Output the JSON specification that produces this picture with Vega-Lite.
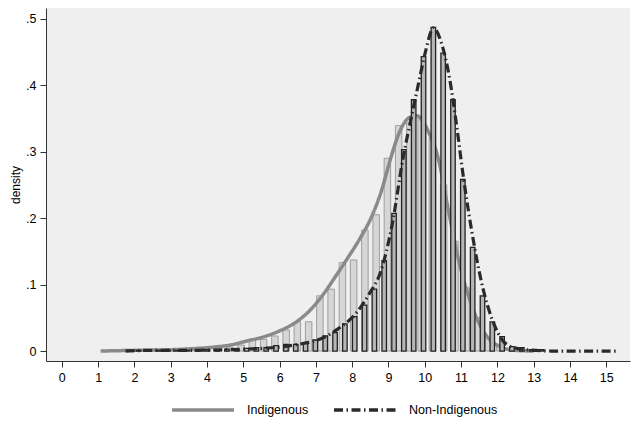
{
  "$schema": "https://vega.github.io/schema/vega-lite/v6.json",
  "width": 584,
  "height": 353,
  "autosize": "none",
  "padding": {"left": 46, "top": 8, "right": 10, "bottom": 70},
  "background": "white",
  "config": {
    "view": {"fill": "#efefef", "stroke": null},
    "font": "Liberation Sans",
    "axis": {"labelFont": "Liberation Sans", "titleFont": "Liberation Sans", "labelColor": "#000", "titleColor": "#000", "domainColor": "#333", "tickColor": "#333", "grid": false}
  },
  "datasets": {
    "indig_bars": [
      {"x": 1.22, "density": 0.001}, {"x": 1.53, "density": 0.001}, {"x": 1.84, "density": 0.001},
      {"x": 2.15, "density": 0.001}, {"x": 2.46, "density": 0.002}, {"x": 2.77, "density": 0.002},
      {"x": 3.08, "density": 0.002}, {"x": 3.39, "density": 0.003}, {"x": 3.70, "density": 0.003},
      {"x": 4.01, "density": 0.004}, {"x": 4.32, "density": 0.005}, {"x": 4.63, "density": 0.006},
      {"x": 4.94, "density": 0.009}, {"x": 5.25, "density": 0.0176}, {"x": 5.56, "density": 0.0176},
      {"x": 5.87, "density": 0.0226}, {"x": 6.18, "density": 0.0316}, {"x": 6.49, "density": 0.044},
      {"x": 6.80, "density": 0.044}, {"x": 7.11, "density": 0.083}, {"x": 7.42, "density": 0.093},
      {"x": 7.73, "density": 0.133}, {"x": 8.04, "density": 0.137}, {"x": 8.35, "density": 0.182},
      {"x": 8.66, "density": 0.205}, {"x": 8.97, "density": 0.290}, {"x": 9.28, "density": 0.339},
      {"x": 9.59, "density": 0.343}, {"x": 9.90, "density": 0.352}, {"x": 10.21, "density": 0.32},
      {"x": 10.52, "density": 0.25}, {"x": 10.83, "density": 0.165}, {"x": 11.14, "density": 0.095},
      {"x": 11.45, "density": 0.05}, {"x": 11.76, "density": 0.02}, {"x": 12.07, "density": 0.008},
      {"x": 12.38, "density": 0.003}, {"x": 12.69, "density": 0.001}
    ],
    "nonind_bars": [
      {"x": 1.841, "density": 0.001}, {"x": 2.112, "density": 0.001}, {"x": 2.383, "density": 0.001},
      {"x": 2.654, "density": 0.001}, {"x": 2.924, "density": 0.001}, {"x": 3.195, "density": 0.001},
      {"x": 3.466, "density": 0.001}, {"x": 3.737, "density": 0.002}, {"x": 4.008, "density": 0.002},
      {"x": 4.278, "density": 0.002}, {"x": 4.549, "density": 0.003}, {"x": 4.820, "density": 0.003},
      {"x": 5.091, "density": 0.004}, {"x": 5.361, "density": 0.005}, {"x": 5.632, "density": 0.005},
      {"x": 5.903, "density": 0.008}, {"x": 6.174, "density": 0.010}, {"x": 6.445, "density": 0.010},
      {"x": 6.715, "density": 0.0125}, {"x": 6.986, "density": 0.0166}, {"x": 7.257, "density": 0.0226},
      {"x": 7.528, "density": 0.0276}, {"x": 7.799, "density": 0.0407}, {"x": 8.069, "density": 0.0517},
      {"x": 8.340, "density": 0.069}, {"x": 8.611, "density": 0.093}, {"x": 8.882, "density": 0.136},
      {"x": 9.153, "density": 0.207}, {"x": 9.423, "density": 0.303}, {"x": 9.694, "density": 0.378},
      {"x": 9.965, "density": 0.443}, {"x": 10.236, "density": 0.487}, {"x": 10.506, "density": 0.448},
      {"x": 10.777, "density": 0.378}, {"x": 11.048, "density": 0.258}, {"x": 11.319, "density": 0.156},
      {"x": 11.590, "density": 0.083}, {"x": 11.860, "density": 0.044}, {"x": 12.131, "density": 0.0216},
      {"x": 12.402, "density": 0.0065}, {"x": 12.673, "density": 0.005}, {"x": 12.943, "density": 0.002},
      {"x": 13.214, "density": 0.002}
    ],
    "indig_kde": [
      {"x": 1.07, "density": 0.0, "group": "Indigenous"}, {"x": 2.0, "density": 0.001, "group": "Indigenous"},
      {"x": 3.0, "density": 0.002, "group": "Indigenous"}, {"x": 3.74, "density": 0.004, "group": "Indigenous"},
      {"x": 4.2, "density": 0.006, "group": "Indigenous"}, {"x": 4.64, "density": 0.009, "group": "Indigenous"},
      {"x": 5.09, "density": 0.015, "group": "Indigenous"}, {"x": 5.54, "density": 0.021, "group": "Indigenous"},
      {"x": 5.99, "density": 0.03, "group": "Indigenous"}, {"x": 6.44, "density": 0.043, "group": "Indigenous"},
      {"x": 6.85, "density": 0.062, "group": "Indigenous"}, {"x": 7.2, "density": 0.085, "group": "Indigenous"},
      {"x": 7.55, "density": 0.113, "group": "Indigenous"}, {"x": 7.9, "density": 0.142, "group": "Indigenous"},
      {"x": 8.2, "density": 0.168, "group": "Indigenous"}, {"x": 8.5, "density": 0.198, "group": "Indigenous"},
      {"x": 8.8, "density": 0.24, "group": "Indigenous"}, {"x": 9.05, "density": 0.288, "group": "Indigenous"},
      {"x": 9.25, "density": 0.322, "group": "Indigenous"}, {"x": 9.42, "density": 0.342, "group": "Indigenous"},
      {"x": 9.6, "density": 0.352, "group": "Indigenous"}, {"x": 9.78, "density": 0.354, "group": "Indigenous"},
      {"x": 9.93, "density": 0.347, "group": "Indigenous"}, {"x": 10.1, "density": 0.33, "group": "Indigenous"},
      {"x": 10.37, "density": 0.29, "group": "Indigenous"}, {"x": 10.64, "density": 0.215, "group": "Indigenous"},
      {"x": 10.91, "density": 0.142, "group": "Indigenous"}, {"x": 11.18, "density": 0.087, "group": "Indigenous"},
      {"x": 11.45, "density": 0.047, "group": "Indigenous"}, {"x": 11.72, "density": 0.0215, "group": "Indigenous"},
      {"x": 12.08, "density": 0.0065, "group": "Indigenous"}, {"x": 12.5, "density": 0.001, "group": "Indigenous"},
      {"x": 13.0, "density": 0.0, "group": "Indigenous"}
    ],
    "nonind_kde": [
      {"x": 1.76, "density": 0.0, "group": "Non-Indigenous"}, {"x": 2.5, "density": 0.001, "group": "Non-Indigenous"},
      {"x": 3.5, "density": 0.001, "group": "Non-Indigenous"}, {"x": 4.5, "density": 0.002, "group": "Non-Indigenous"},
      {"x": 5.5, "density": 0.004, "group": "Non-Indigenous"}, {"x": 6.0, "density": 0.006, "group": "Non-Indigenous"},
      {"x": 6.39, "density": 0.009, "group": "Non-Indigenous"}, {"x": 6.8, "density": 0.013, "group": "Non-Indigenous"},
      {"x": 7.2, "density": 0.02, "group": "Non-Indigenous"}, {"x": 7.6, "density": 0.033, "group": "Non-Indigenous"},
      {"x": 8.11, "density": 0.057, "group": "Non-Indigenous"}, {"x": 8.48, "density": 0.087, "group": "Non-Indigenous"},
      {"x": 8.79, "density": 0.12, "group": "Non-Indigenous"}, {"x": 9.1, "density": 0.19, "group": "Non-Indigenous"},
      {"x": 9.4, "density": 0.29, "group": "Non-Indigenous"}, {"x": 9.69, "density": 0.367, "group": "Non-Indigenous"},
      {"x": 9.83, "density": 0.403, "group": "Non-Indigenous"}, {"x": 10.01, "density": 0.448, "group": "Non-Indigenous"},
      {"x": 10.24, "density": 0.486, "group": "Non-Indigenous"}, {"x": 10.46, "density": 0.463, "group": "Non-Indigenous"},
      {"x": 10.69, "density": 0.408, "group": "Non-Indigenous"}, {"x": 10.87, "density": 0.342, "group": "Non-Indigenous"},
      {"x": 11.05, "density": 0.267, "group": "Non-Indigenous"}, {"x": 11.32, "density": 0.172, "group": "Non-Indigenous"},
      {"x": 11.59, "density": 0.097, "group": "Non-Indigenous"}, {"x": 11.86, "density": 0.047, "group": "Non-Indigenous"},
      {"x": 12.13, "density": 0.017, "group": "Non-Indigenous"}, {"x": 12.4, "density": 0.006, "group": "Non-Indigenous"},
      {"x": 12.8, "density": 0.002, "group": "Non-Indigenous"}, {"x": 13.5, "density": 0.0, "group": "Non-Indigenous"},
      {"x": 15.3, "density": 0.0, "group": "Non-Indigenous"}
    ]
  },
  "encoding": {
    "x": {
      "field": "x", "type": "quantitative",
      "scale": {"domain": [-0.298, 15.516], "nice": false, "zero": false},
      "axis": {"values": [0,1,2,3,4,5,6,7,8,9,10,11,12,13,14,15], "title": null, "tickSize": 6, "labelPadding": 4, "labelFontSize": 12.5, "labelFlush": false}
    },
    "y": {
      "field": "density", "type": "quantitative",
      "scale": {"domain": [-0.015, 0.516], "nice": false, "zero": false},
      "axis": {"values": [0, 0.1, 0.2, 0.3, 0.4, 0.5], "title": "density", "titleFontSize": 12, "titleFontWeight": "normal", "titlePadding": 3, "tickSize": 6, "labelPadding": 4, "labelFontSize": 12.5, "labelFlush": false,
        "labelExpr": "datum.value == 0 ? '0' : substring(format(datum.value, '.1f'), 1)"}
    }
  },
  "layer": [
    {
      "data": {"name": "indig_bars"},
      "mark": {"type": "bar", "size": 6.5, "fill": "#d6d6d6", "stroke": "#9e9e9e", "strokeWidth": 1}
    },
    {
      "data": {"name": "indig_kde"},
      "mark": {"type": "line", "strokeWidth": 3.5, "interpolate": "monotone"},
      "encoding": {
        "color": {"field": "group", "type": "nominal",
          "scale": {"domain": ["Indigenous", "Non-Indigenous"], "range": ["#8a8a8a", "#2a2a2a"]},
          "legend": {"orient": "none", "legendX": 124, "legendY": 369, "direction": "horizontal", "title": null,
            "symbolType": "stroke", "symbolSize": 3844, "symbolStrokeWidth": 3.5, "labelFontSize": 12.5,
            "labelFont": "Liberation Sans", "labelColor": "#000", "columnPadding": 18, "labelOffset": 11, "padding": 0}},
        "strokeDash": {"field": "group", "type": "nominal",
          "scale": {"domain": ["Indigenous", "Non-Indigenous"], "range": [[1, 0], [9, 3.5, 1.5, 3.5]]}}
      }
    },
    {
      "data": {"name": "nonind_bars"},
      "mark": {"type": "bar", "size": 4.5, "fill": "#b6b6b6", "stroke": "#222222", "strokeWidth": 1.3}
    },
    {
      "data": {"name": "nonind_kde"},
      "mark": {"type": "line", "strokeWidth": 3.2, "interpolate": "monotone"},
      "encoding": {
        "color": {"field": "group", "type": "nominal"},
        "strokeDash": {"field": "group", "type": "nominal"}
      }
    }
  ]
}
